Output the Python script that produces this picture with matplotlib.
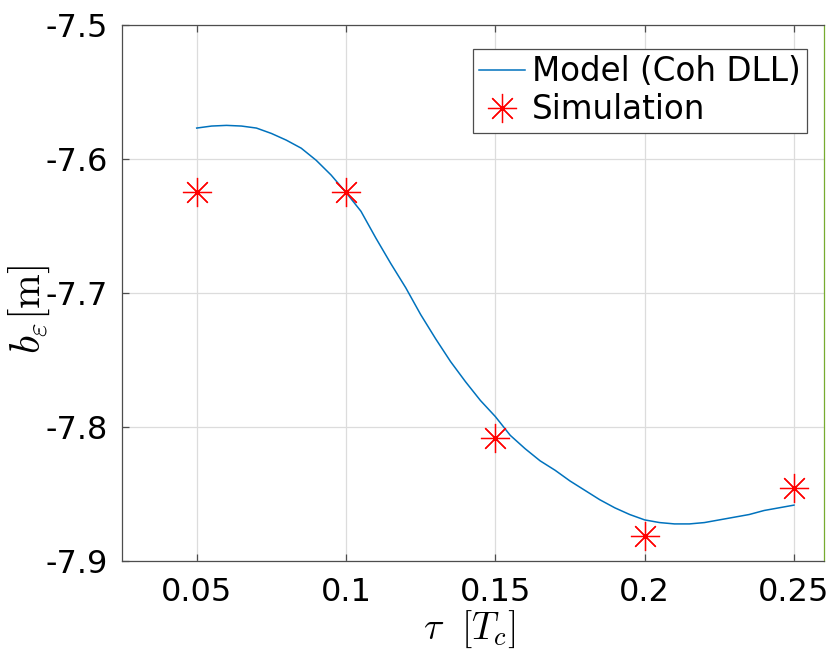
import matplotlib
matplotlib.use("Agg")
import matplotlib.pyplot as plt

# model curve (Coh DLL)
tau_model = [0.050, 0.055, 0.060, 0.065, 0.070, 0.075, 0.080, 0.085, 0.090, 0.095,
             0.100, 0.105, 0.110, 0.115, 0.120, 0.125, 0.130, 0.135, 0.140, 0.145,
             0.150, 0.155, 0.160, 0.165, 0.170, 0.175, 0.180, 0.185, 0.190, 0.195,
             0.200, 0.205, 0.210, 0.215, 0.220, 0.225, 0.230, 0.235, 0.240, 0.245,
             0.250]
b_model = [-7.577, -7.5755, -7.575, -7.5755, -7.577, -7.581, -7.586, -7.592, -7.601, -7.612,
           -7.625, -7.639, -7.659, -7.678, -7.696, -7.716, -7.734, -7.751, -7.766, -7.780,
           -7.792, -7.806, -7.816, -7.825, -7.832, -7.840, -7.847, -7.854, -7.860, -7.865,
           -7.869, -7.871, -7.872, -7.872, -7.871, -7.869, -7.867, -7.865, -7.862, -7.860,
           -7.858]

# simulation points
tau_sim = [0.05, 0.10, 0.15, 0.20, 0.25]
b_sim = [-7.625, -7.625, -7.808, -7.881, -7.845]

xticks = [0.05, 0.1, 0.15, 0.2, 0.25]
xtick_labels = ["0.05", "0.1", "0.15", "0.2", "0.25"]
yticks = [-7.9, -7.8, -7.7, -7.6, -7.5]
ytick_labels = ["-7.9", "-7.8", "-7.7", "-7.6", "-7.5"]

plt.rcParams['mathtext.fontset'] = 'cm'
plt.rcParams['font.family'] = 'DejaVu Sans'

fig = plt.figure(figsize=(8.33, 6.51), dpi=100)
ax = fig.add_axes([0.1465, 0.1375, 0.8425, 0.8245])

ax.plot(tau_model, b_model, color='#0072BD', lw=1.1, label='Model (Coh DLL)')
ax.plot(tau_sim, b_sim, ls='none', marker=(8, 2, 0), ms=21, mew=0.9,
        color='red', label='Simulation')

ax.set_xlim(0.025, 0.26)
ax.set_ylim(-7.9, -7.5)
ax.set_xticks(xticks)
ax.set_xticklabels(xtick_labels)
ax.set_yticks(yticks)
ax.set_yticklabels(ytick_labels)
ax.grid(True, color='#dcdcdc', lw=0.9)
ax.set_axisbelow(True)

for side in ['left', 'bottom', 'top']:
    ax.spines[side].set_color('#4d4d4d')
    ax.spines[side].set_linewidth(0.9)
ax.spines['right'].set_color('#77AC30')
ax.spines['right'].set_linewidth(0.9)

ax.tick_params(direction='in', length=5, width=0.9, color='#4d4d4d',
               labelsize=23, top=True, right=False)
ax.tick_params(axis='x', pad=11)
ax.tick_params(axis='y', pad=10)

ax.set_xlabel(r'$\tau\ \ [T_c]$', fontsize=27)
ax.set_ylabel(r'$b_\varepsilon [\mathrm{m}]$', fontsize=30)
ax.xaxis.set_label_coords(0.495, -0.088)
ax.yaxis.set_label_coords(-0.10, 0.47)

leg = ax.legend(loc='upper right', bbox_to_anchor=(0.976, 0.955), fontsize=23.5,
                handlelength=1.4, handletextpad=0.2, labelspacing=0.15,
                borderpad=0.2, borderaxespad=0, fancybox=False, framealpha=1,
                edgecolor='#4d4d4d')
leg.get_frame().set_linewidth(0.9)

fig.savefig('out.png', dpi=100)
